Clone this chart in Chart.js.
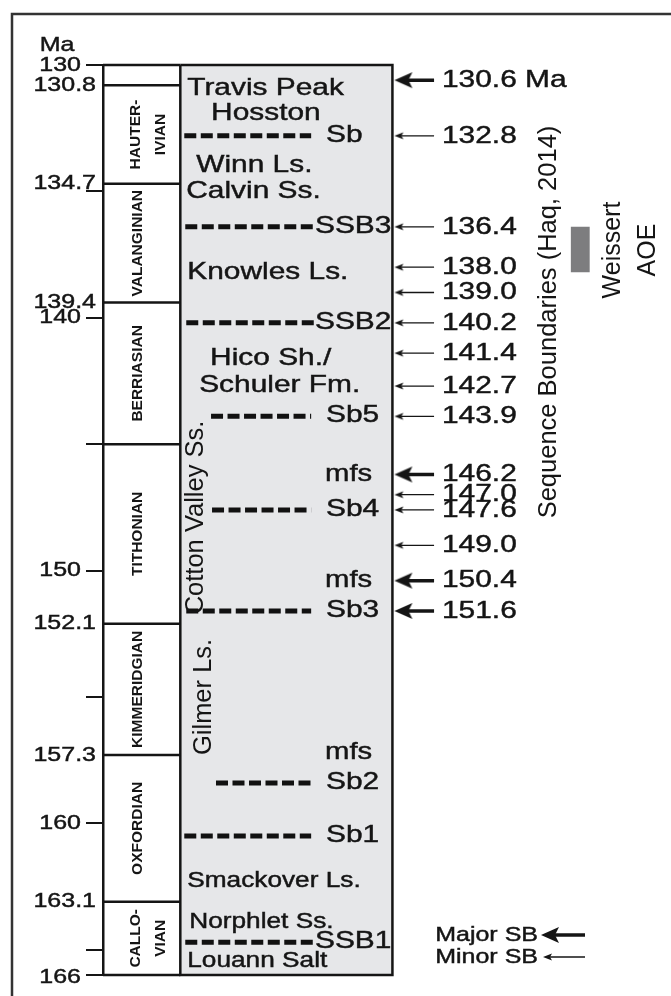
<!DOCTYPE html>
<html>
<head>
<meta charset="utf-8">
<script src="https://cdn.jsdelivr.net/npm/chart.js@4.4.1/dist/chart.umd.min.js"></script>
<style>
  html, body { margin: 0; padding: 0; background: #fff; }
  canvas { display: block; }
</style>
</head>
<body>
<canvas id="stratChart" width="671" height="996"></canvas>
<script>
// ---- chart values (ages in Ma) ----
const stageNames = ['', 'HAUTER-|IVIAN', 'VALANGINIAN', 'BERRIASIAN', 'TITHONIAN', 'KIMMERIDGIAN', 'OXFORDIAN', 'CALLO-|VIAN'];
const stageBounds = [130, 130.8, 134.7, 139.4, 145.0, 152.1, 157.3, 163.1, 166];
const boundLabels = ['', '130.8', '134.7', '139.4', '', '152.1', '157.3', '163.1', ''];
const axisTicks = [130, 135, 140, 145, 150, 155, 160, 165, 166];
const axisTickLabels = ['130', '', '140', '', '150', '', '160', '', '166'];

const formationNames = ['Travis Peak', 'Hosston', 'Winn Ls.', 'Calvin Ss.', 'Knowles Ls.', 'Hico Sh./', 'Schuler Fm.', 'Smackover Ls.', 'Norphlet Ss.', 'Louann Salt'];
const formationAges = [130.9, 131.9, 133.95, 135.0, 138.2, 141.6, 142.65, 162.3, 163.9, 165.45];
const verticalFormations = ['Cotton Valley Ss.', 'Gilmer Ls.'];
const verticalFormationAges = [147.9, 155.0];

const surfaceNames = ['Sb', 'SSB3', 'SSB2', 'Sb5', 'Sb4', 'Sb3', 'Sb2', 'Sb1', 'SSB1'];
const surfaceAges = [132.8, 136.4, 140.2, 143.9, 147.6, 151.6, 158.4, 160.5, 164.7];
const mfsAges = [146.2, 150.4, 157.2];

const boundaryAges = [130.6, 132.8, 136.4, 138.0, 139.0, 140.2, 141.4, 142.7, 143.9, 146.2, 147.0, 147.6, 149.0, 150.4, 151.6];
const boundaryKinds = ['major', 'minor', 'minor', 'minor', 'minor', 'minor', 'minor', 'minor', 'minor', 'major', 'minor', 'minor', 'minor', 'major', 'major'];

const weissertAOE = [136.4, 138.2];

// ---- layout / style ----
const FONT = '"Liberation Sans", Arial, Helvetica, sans-serif';
const STRETCH = 1.22;   // horizontal text in the figure is drawn wide
const INK = '#151515';
const X = { stageL: 103, stageR: 181, boxR: 395, tip: 397, tail: 437, label: 442, lineEnd: 315 };
const surfaceStartX = [185, 186, 187, 212, 213, 187, 217, 185, 186];
const formationX = [188, 212, 197, 187, 188, 211, 200, 188, 190, 188];
const formationSize = [24.5, 24.5, 24.5, 24.5, 24.5, 24.5, 24.5, 21.5, 21.5, 21.5];

function makeHead(len, half, notch) {
    const c = document.createElement('canvas');
    c.width = 2 * len + 2;
    c.height = 2 * Math.ceil(half) + 2;
    const g = c.getContext('2d');
    const cx = c.width / 2, cy = c.height / 2;
    g.fillStyle = INK;
    g.beginPath();
    g.moveTo(cx, cy);
    g.lineTo(cx + len, cy - half);
    g.lineTo(cx + len - notch, cy);
    g.lineTo(cx + len, cy + half);
    g.closePath();
    g.fill();
    return c;
}
const majorHead = makeHead(18, 8, 4);
const minorHead = makeHead(9, 3.5, 2);

function segments(rows) {
    const pts = [];
    rows.forEach(([x1, x2, y]) => {
        pts.push({ x: x1, y: y }, { x: x2, y: y }, { x: null, y: null });
    });
    return pts;
}

const majorAges = boundaryAges.filter((a, i) => boundaryKinds[i] === 'major');
const minorAges = boundaryAges.filter((a, i) => boundaryKinds[i] === 'minor');

const datasets = [
    {   // stage column divisions
        data: segments(stageBounds.map(b => [X.stageL, X.stageR, b])),
        borderColor: INK, borderWidth: 2.5, pointRadius: 0, spanGaps: false, clip: false
    },
    {   // sequence surfaces (dashed)
        data: segments(surfaceAges.map((a, i) => [surfaceStartX[i], surfaceNames[i].startsWith('SSB') ? X.lineEnd + 1 : X.lineEnd - 2, a])),
        borderColor: '#111', borderWidth: 5, borderDash: [12, 4.5], borderCapStyle: 'butt',
        pointRadius: 0, spanGaps: false, clip: false
    },
    {   // major SB shafts
        data: segments(majorAges.map(a => [X.tip + 10, X.tail, a])),
        borderColor: INK, borderWidth: 3.5, pointRadius: 0, spanGaps: false, clip: false
    },
    {   // minor SB shafts
        data: segments(minorAges.map(a => [X.tip + 5, X.tail, a])),
        borderColor: INK, borderWidth: 1.3, pointRadius: 0, spanGaps: false, clip: false
    },
    {
        data: majorAges.map(a => ({ x: X.tip, y: a })),
        showLine: false, pointStyle: majorHead, pointRadius: 4, clip: false
    },
    {
        data: minorAges.map(a => ({ x: X.tip, y: a })),
        showLine: false, pointStyle: minorHead, pointRadius: 4, clip: false
    },
    {   // Weissert AOE bar
        data: [
            { x: 575, y: weissertAOE[0] }, { x: 594, y: weissertAOE[0] },
            { x: 594, y: weissertAOE[1] }, { x: 575, y: weissertAOE[1] }, { x: 575, y: weissertAOE[0] }
        ],
        fill: 'shape', backgroundColor: '#7d7d7f', borderWidth: 0, pointRadius: 0, order: 1, clip: false
    },
    {   // formation column
        data: [
            { x: X.stageR, y: 130 }, { x: X.boxR, y: 130 }, { x: X.boxR, y: 166 },
            { x: X.stageR, y: 166 }, { x: X.stageR, y: 130 }
        ],
        fill: 'shape', backgroundColor: '#e6e7e9', borderColor: INK, borderWidth: 2.5,
        borderJoinStyle: 'miter', pointRadius: 0, order: 2, clip: false
    }
];

function hText(ctx, txt, x, y, size, align) {
    ctx.save();
    ctx.font = size + 'px ' + FONT;
    ctx.fillStyle = INK;
    ctx.strokeStyle = INK;
    ctx.lineWidth = 0.45;
    ctx.textAlign = align || 'left';
    ctx.textBaseline = 'middle';
    ctx.translate(x, y);
    ctx.scale(STRETCH, 1);
    ctx.fillText(txt, 0, 0);
    ctx.strokeText(txt, 0, 0);
    ctx.restore();
}

function vText(ctx, lines, x, y, font, gap) {
    ctx.save();
    ctx.font = font;
    ctx.fillStyle = INK;
    ctx.textAlign = 'center';
    ctx.textBaseline = 'middle';
    ctx.translate(x, y);
    ctx.rotate(-Math.PI / 2);
    lines.forEach((l, i) => ctx.fillText(l, 0, (i - (lines.length - 1) / 2) * gap));
    ctx.restore();
}

const textPlugin = {
    id: 'stratText',
    afterDatasetsDraw(chart) {
        const ctx = chart.ctx;
        const y = chart.scales.y;
        const x = chart.scales.x;

        hText(ctx, 'Ma', 57, 45, 20.5, 'center');
        axisTicks.forEach((t, i) => {
            if (axisTickLabels[i]) hText(ctx, axisTickLabels[i], 81, y.getPixelForValue(t) + (t === 166 ? 2 : 0), 20.5, 'right');
        });
        stageBounds.forEach((b, i) => {
            if (boundLabels[i]) hText(ctx, boundLabels[i], 96, y.getPixelForValue(b), 20.5, 'right');
        });

        // stage names
        for (let i = 1; i < stageNames.length; i++) {
            const mid = (y.getPixelForValue(stageBounds[i]) + y.getPixelForValue(stageBounds[i + 1])) / 2;
            const lines = stageNames[i].split('|');
            const cx = lines.length > 1 ? 148 : 138;
            vText(ctx, lines, cx, mid, 'bold 15.5px ' + FONT, 25);
        }

        formationNames.forEach((n, i) => {
            hText(ctx, n, x.getPixelForValue(formationX[i]), y.getPixelForValue(formationAges[i]), formationSize[i], 'left');
        });
        vText(ctx, [verticalFormations[0]], 196, y.getPixelForValue(verticalFormationAges[0]), '25.5px ' + FONT, 0);
        vText(ctx, [verticalFormations[1]], 204, y.getPixelForValue(verticalFormationAges[1]), '25.5px ' + FONT, 0);

        surfaceNames.forEach((n, i) => {
            const lx = n.startsWith('SSB') ? X.lineEnd : 326;
            hText(ctx, n, lx, y.getPixelForValue(surfaceAges[i]) - 1, 24.5, 'left');
        });
        mfsAges.forEach(a => hText(ctx, 'mfs', 325, y.getPixelForValue(a), 24, 'left'));

        boundaryAges.forEach((a, i) => {
            const t = a.toFixed(1) + (i === 0 ? ' Ma' : '');
            hText(ctx, t, X.label, y.getPixelForValue(a), 24.5, 'left');
        });

        vText(ctx, ['Sequence Boundaries (Haq, 2014)'], 549, 322, '25.5px ' + FONT, 0);
        vText(ctx, ['Weissert', 'AOE'], 631, 250, '25px ' + FONT, 35);

        // key
        hText(ctx, 'Major SB', 538, 935, 20.5, 'right');
        hText(ctx, 'Minor SB', 538, 957, 20.5, 'right');
        ctx.save();
        ctx.strokeStyle = INK;
        ctx.lineWidth = 3.5;
        ctx.beginPath(); ctx.moveTo(552, 935); ctx.lineTo(585, 935); ctx.stroke();
        ctx.lineWidth = 1.3;
        ctx.beginPath(); ctx.moveTo(548, 957); ctx.lineTo(585, 957); ctx.stroke();
        ctx.drawImage(majorHead, 541 - majorHead.width / 2, 935 - majorHead.height / 2);
        ctx.drawImage(minorHead, 543 - minorHead.width / 2, 957 - minorHead.height / 2);
        ctx.restore();
    },
    afterDraw(chart) {
        const ctx = chart.ctx;
        ctx.save();
        ctx.strokeStyle = '#333';
        ctx.lineWidth = 2.5;
        ctx.beginPath();
        ctx.moveTo(12, 1000);
        ctx.lineTo(12, 14);
        ctx.lineTo(675, 14);
        ctx.stroke();
        ctx.restore();
    }
};

new Chart(document.getElementById('stratChart'), {
    type: 'line',
    data: { datasets: datasets },
    plugins: [textPlugin],
    options: {
        responsive: false,
        animation: false,
        events: [],
        layout: { padding: { top: 65, bottom: 21, left: 0, right: 0 } },
        plugins: { legend: { display: false }, tooltip: { enabled: false } },
        scales: {
            x: { type: 'linear', min: X.stageL, max: 671, display: false },
            y: {
                type: 'linear', reverse: true, min: 130, max: 166, position: 'left',
                afterFit(s) { s.width = X.stageL; },
                afterBuildTicks(s) { s.ticks = axisTicks.map(v => ({ value: v })); },
                ticks: { display: false },
                grid: { drawOnChartArea: false, drawTicks: true, tickLength: 17, color: INK, lineWidth: 2, tickWidth: 2 },
                border: { display: true, color: INK, width: 2.5 }
            }
        }
    }
});
</script>
</body>
</html>
